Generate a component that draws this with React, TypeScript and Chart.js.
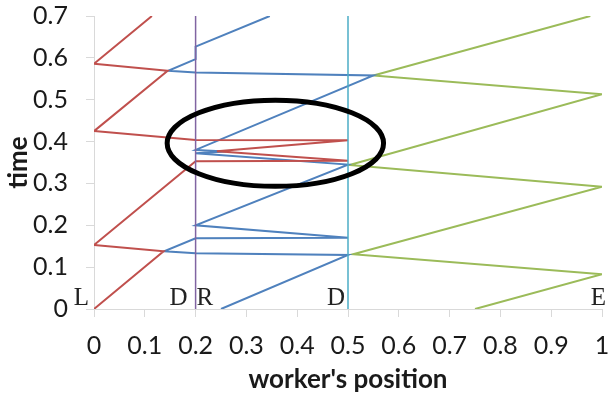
import React, { useEffect, useRef } from 'react';
import { Chart, registerables } from 'chart.js';

Chart.register(...registerables);

// Worker trajectories: position (x) vs time (t)
const redX = [0, 0.137, 0, 0.2, 0.5, 0.242, 0.5, 0.2, 0, 0.145, 0, 0.114];
const redT = [0, 0.138, 0.153, 0.353, 0.354, 0.377, 0.403, 0.404, 0.425, 0.569, 0.586, 0.7];

const blueX = [0.25, 0.5, 0.2, 0.138, 0.2, 0.5, 0.2, 0.5, 0.2, 0.26, 0.2, 0.55, 0.2, 0.146, 0.2, 0.2, 0.346];
const blueT = [0, 0.129, 0.133, 0.138, 0.169, 0.17, 0.2, 0.345, 0.372, 0.376, 0.38, 0.558, 0.565, 0.569, 0.597, 0.627, 0.7];

const greenX = [0.75, 1, 0.51, 1, 0.503, 1, 0.55, 0.977];
const greenT = [0, 0.083, 0.131, 0.292, 0.344, 0.513, 0.558, 0.7];

// Vertical divider positions
const dividerX = [0.2, 0.5];
const dividerT = [0, 0.7];

// Tick labels
const xTickLabels = ['0', '0.1', '0.2', '0.3', '0.4', '0.5', '0.6', '0.7', '0.8', '0.9', '1'];
const yTickLabels = ['0', '0.1', '0.2', '0.3', '0.4', '0.5', '0.6', '0.7'];

// Letter annotations along the bottom
const markTexts = ['L', 'D', 'R', 'D', 'E'];
const markX = [0, 0.2, 0.2, 0.5, 1];

// Highlight ellipse (center and radii in data units)
const ellipseCenter = [0.357, 0.396];
const ellipseRadius = [0.213, 0.103];

const COLORS = {
  red: '#C0504D',
  blue: '#4F81BD',
  green: '#9BBB59',
  purple: '#8064A2',
  aqua: '#4BACC6',
  axis: '#d9d9d9',
  text: '#1a1a1a',
};

const toPts = (xs: number[], ts: number[]) => xs.map((x, i) => ({ x, y: ts[i] }));

const markStyle = [
  { align: 'right', dx: -5 },
  { align: 'right', dx: -8 },
  { align: 'left', dx: 1 },
  { align: 'right', dx: -3 },
  { align: 'right', dx: 4 },
];

const overlayPlugin = {
  id: 'overlay',
  afterDatasetsDraw(chart: any) {
    const { ctx, scales } = chart;
    const xs = scales.x;
    const ys = scales.y;
    const cx = xs.getPixelForValue(ellipseCenter[0]);
    const cy = ys.getPixelForValue(ellipseCenter[1]);
    const rx = Math.abs(xs.getPixelForValue(ellipseCenter[0] + ellipseRadius[0]) - cx);
    const ry = Math.abs(ys.getPixelForValue(ellipseCenter[1] + ellipseRadius[1]) - cy);
    ctx.save();
    ctx.beginPath();
    ctx.ellipse(cx, cy, rx, ry, 0, 0, Math.PI * 2);
    ctx.lineWidth = 5;
    ctx.strokeStyle = '#000';
    ctx.stroke();
    ctx.restore();
    ctx.save();
    ctx.font = '25px "Liberation Serif", "DejaVu Serif", serif';
    ctx.fillStyle = '#222';
    ctx.textBaseline = 'alphabetic';
    const baseY = ys.getPixelForValue(0) - 4;
    markTexts.forEach((t, i) => {
      ctx.textAlign = markStyle[i].align as CanvasTextAlign;
      ctx.fillText(t, xs.getPixelForValue(markX[i]) + markStyle[i].dx, baseY);
    });
    ctx.restore();
  },
};

export default function App() {
  const ref = useRef<HTMLCanvasElement | null>(null);

  useEffect(() => {
    if (!ref.current) return;
    const lineDs = (label: string, data: any[], color: string, width = 2) => ({
      label,
      data,
      borderColor: color,
      backgroundColor: color,
      borderWidth: width,
      showLine: true,
      pointRadius: 0,
      fill: false,
      tension: 0,
    });
    const chart = new Chart(ref.current, {
      type: 'scatter',
      data: {
        datasets: [
          lineDs('D1', toPts([dividerX[0], dividerX[0]], dividerT), COLORS.purple, 1.5),
          lineDs('D2', toPts([dividerX[1], dividerX[1]], dividerT), COLORS.aqua, 1.5),
          lineDs('red', toPts(redX, redT), COLORS.red),
          lineDs('blue', toPts(blueX, blueT), COLORS.blue),
          lineDs('green', toPts(greenX, greenT), COLORS.green),
        ],
      },
      options: {
        animation: false,
        responsive: false,
        devicePixelRatio: 1,
        layout: { padding: { left: 0, right: 7, top: 16, bottom: 0 } },
        plugins: {
          legend: { display: false },
          tooltip: { enabled: false },
        },
        scales: {
          x: {
            type: 'linear',
            min: 0,
            max: 1,
            afterBuildTicks: (s: any) => {
              s.ticks = xTickLabels.map((l) => ({ value: parseFloat(l) }));
            },
            afterFit: (s: any) => {
              s.height = 90;
              s.paddingLeft = 0;
              s.paddingRight = 0;
            },
            ticks: {
              autoSkip: false,
              maxRotation: 0,
              padding: 14,
              color: COLORS.text,
              font: { family: 'Lato', size: 25 },
              callback: (_v: any, i: number) => xTickLabels[i],
            },
            grid: {
              drawOnChartArea: false,
              drawTicks: true,
              tickLength: 8,
              color: COLORS.axis,
            },
            border: { display: true, color: COLORS.axis },
            title: {
              display: true,
              text: "worker's position",
              color: COLORS.text,
              font: { family: 'Lato', size: 26, weight: 'bold' },
              padding: { top: 0, bottom: 4 },
            },
          },
          y: {
            type: 'linear',
            min: 0,
            max: 0.7,
            afterBuildTicks: (s: any) => {
              s.ticks = yTickLabels.map((l) => ({ value: parseFloat(l) }));
            },
            afterFit: (s: any) => {
              s.width = 94;
              s.paddingTop = 0;
              s.paddingBottom = 0;
            },
            ticks: {
              autoSkip: false,
              padding: 18,
              color: COLORS.text,
              font: { family: 'Lato', size: 25 },
              callback: (_v: any, i: number) => yTickLabels[i],
            },
            grid: {
              drawOnChartArea: false,
              drawTicks: true,
              tickLength: 8,
              color: COLORS.axis,
            },
            border: { display: true, color: COLORS.axis },
            title: {
              display: true,
              text: 'time',
              color: COLORS.text,
              font: { family: 'Lato', size: 26, weight: 'bold' },
              padding: { top: 3, bottom: 0 },
            },
          },
        },
      },
      plugins: [overlayPlugin],
    } as any);
    return () => chart.destroy();
  }, []);

  return (
    <div style={{ position: 'absolute', left: 0, top: 0, width: 609, height: 399, background: '#fff' }}>
      <canvas ref={ref} width={609} height={399} style={{ display: 'block' }} />
    </div>
  );
}
